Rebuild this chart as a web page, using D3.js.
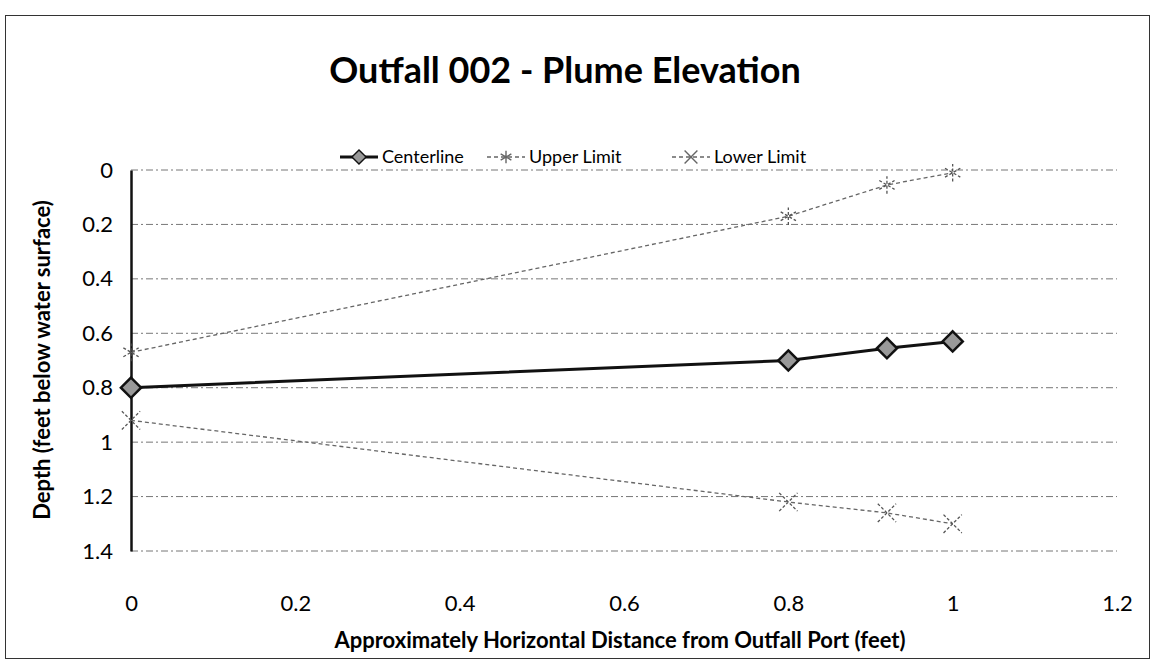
<!DOCTYPE html>
<html>
<head>
<meta charset="utf-8">
<script src="https://cdn.jsdelivr.net/npm/d3@7"></script>
<style>
  body { margin: 0; background: #fff; }
  svg { display: block; font-family: Lato, "Open Sans", sans-serif; }
</style>
</head>
<body>
<div id="chart"></div>
<script>
const distance = [0, 0.8, 0.92, 1.0];
const centerline = [0.80, 0.70, 0.655, 0.63];
const upperLimit = [0.67, 0.17, 0.055, 0.01];
const lowerLimit = [0.92, 1.22, 1.26, 1.30];
const xTicks = [0, 0.2, 0.4, 0.6, 0.8, 1, 1.2];
const yTicks = [0, 0.2, 0.4, 0.6, 0.8, 1, 1.2, 1.4];
const seriesNames = ['Centerline', 'Upper Limit', 'Lower Limit'];

const width = 1155;
const height = 671;
const margin = { top: 170, right: 38, bottom: 120, left: 131 };

const svg = d3.select('#chart')
  .append('svg')
  .attr('width', width)
  .attr('height', height);

// outer chart frame
svg.append('rect')
  .attr('x', 5.5)
  .attr('y', 15.5)
  .attr('width', 1144)
  .attr('height', 643)
  .attr('fill', 'none')
  .attr('stroke', '#333')
  .attr('stroke-width', 1);

const x = d3.scaleLinear()
  .domain([0, 1.2])
  .range([margin.left, width - margin.right]);

const y = d3.scaleLinear()
  .domain([0, 1.4])
  .range([margin.top, height - margin.bottom]);

// gridlines
svg.append('g')
  .selectAll('line')
  .data(yTicks)
  .enter()
  .append('line')
  .attr('x1', x(0))
  .attr('x2', x(1.2))
  .attr('y1', d => y(d))
  .attr('y2', d => y(d))
  .attr('stroke', '#777')
  .attr('stroke-width', 1)
  .attr('stroke-dasharray', '7,3,2,3');

// axes
const xAxis = svg.append('g')
  .attr('transform', `translate(0,${y(1.4)})`)
  .call(d3.axisBottom(x).tickValues(xTicks).tickFormat(d3.format('')).tickSize(0).tickPadding(44));
xAxis.select('.domain').remove();
xAxis.selectAll('text')
  .attr('font-size', '22px')
  .attr('fill', '#000')
  .style('font-family', 'Lato, sans-serif');

const yAxis = svg.append('g')
  .attr('transform', `translate(${x(0)},0)`)
  .call(d3.axisLeft(y).tickValues(yTicks).tickFormat(d3.format('')).tickSize(0).tickPadding(18));
yAxis.select('.domain')
  .attr('stroke', '#111')
  .attr('stroke-width', 2.5);
yAxis.selectAll('text')
  .attr('font-size', '22px')
  .attr('fill', '#000')
  .style('font-family', 'Lato, sans-serif');

// titles
svg.append('text')
  .attr('x', 565)
  .attr('y', 83)
  .attr('text-anchor', 'middle')
  .attr('font-size', '36px')
  .attr('font-weight', 'bold')
  .text('Outfall 002 - Plume Elevation');

svg.append('text')
  .attr('x', 620)
  .attr('y', 648)
  .attr('text-anchor', 'middle')
  .attr('font-size', '22px')
  .attr('font-weight', 'bold')
  .text('Approximately Horizontal Distance from Outfall Port (feet)');

svg.append('text')
  .attr('transform', 'translate(50,360) rotate(-90)')
  .attr('text-anchor', 'middle')
  .attr('font-size', '22px')
  .attr('font-weight', 'bold')
  .text('Depth (feet below water surface)');

// marker shapes
const star = d3.symbol().type(d3.symbolAsterisk || d3.symbolCross).size(220);
const cross = d3.symbol().type(d3.symbolX).size(220);
const diamond = d3.symbol().type(d3.symbolDiamond2 || d3.symbolDiamond).size(260);

const line = d3.line()
  .x(d => x(d[0]))
  .y(d => y(d[1]));

const limits = [
  { values: upperLimit, shape: star },
  { values: lowerLimit, shape: cross }
];

limits.forEach(s => {
  const pts = distance.map((d, i) => [d, s.values[i]]);
  svg.append('path')
    .datum(pts)
    .attr('fill', 'none')
    .attr('stroke', '#666')
    .attr('stroke-width', 1.3)
    .attr('stroke-dasharray', '4,3')
    .attr('d', line);
  svg.selectAll(null)
    .data(pts)
    .enter()
    .append('path')
    .attr('transform', d => `translate(${x(d[0])},${y(d[1])})`)
    .attr('d', s.shape)
    .attr('fill', 'none')
    .attr('stroke', '#555')
    .attr('stroke-width', 1.3)
    .attr('stroke-dasharray', '3,2');
});

const centerPts = distance.map((d, i) => [d, centerline[i]]);
svg.append('path')
  .datum(centerPts)
  .attr('fill', 'none')
  .attr('stroke', '#111')
  .attr('stroke-width', 3)
  .attr('d', line);
svg.selectAll(null)
  .data(centerPts)
  .enter()
  .append('path')
  .attr('transform', d => `translate(${x(d[0])},${y(d[1])})`)
  .attr('d', diamond)
  .attr('fill', '#999')
  .attr('stroke', '#111')
  .attr('stroke-width', 2.5);

// legend
const legendItems = [
  { name: seriesNames[0], x: 340, shape: diamond, stroke: '#111', width: 3, dash: null, fill: '#999' },
  { name: seriesNames[1], x: 487, shape: star, stroke: '#666', width: 1.3, dash: '4,3', fill: 'none' },
  { name: seriesNames[2], x: 672, shape: cross, stroke: '#666', width: 1.3, dash: '4,3', fill: 'none' }
];

const legend = svg.append('g').attr('transform', 'translate(0,157)');
legendItems.forEach(d => {
  const row = legend.append('g').attr('transform', `translate(${d.x},0)`);
  row.append('line')
    .attr('x1', 0)
    .attr('x2', 38)
    .attr('stroke', d.stroke)
    .attr('stroke-width', d.width)
    .attr('stroke-dasharray', d.dash);
  row.append('path')
    .attr('transform', 'translate(19,0) scale(0.7)')
    .attr('d', d.shape)
    .attr('fill', d.fill)
    .attr('stroke', d.stroke)
    .attr('stroke-width', 2);
  row.append('text')
    .attr('x', 42)
    .attr('y', 6)
    .attr('font-size', '18px')
    .text(d.name);
});
</script>
</body>
</html>
